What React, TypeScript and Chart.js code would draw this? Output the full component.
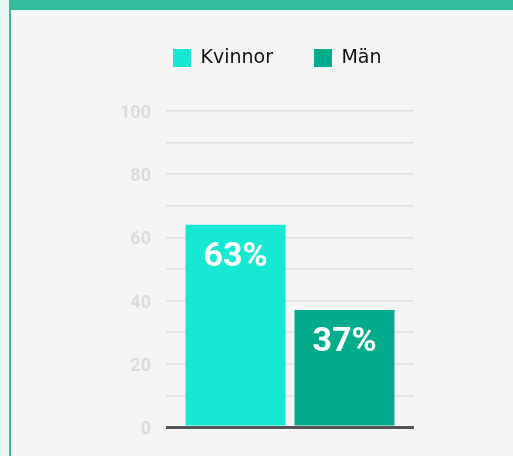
import React, { useEffect, useRef } from "react";
import { Chart, registerables } from "chart.js";

Chart.register(...registerables);

const categories = [""];
const seriesNames = ["Kvinnor", "Män"];
const kvinnorValues = [64];
const manValues = [37];
const valueLabels = ["63%", "37%"];
const yTickLabels = [0, 20, 40, 60, 80, 100];
const seriesColors = ["#17e8d1", "#02ab8c"];

export default function App() {
  const ref = useRef<HTMLCanvasElement>(null);

  useEffect(() => {
    if (!ref.current) return;

    const legendSpacer = {
      id: "legendSpacer",
      beforeInit(chart: any) {
        const legend = chart.legend;
        if (!legend) return;
        const orig = legend.fit;
        legend.fit = function () {
          orig.call(this);
          this.height += 33.5;
        };
      },
    };

    const barLabels = {
      id: "barLabels",
      afterDatasetsDraw(chart: any) {
        const ctx = chart.ctx;
        ctx.save();
        ctx.font = "bold 34px Roboto";
        ctx.fillStyle = "#ffffff";
        ctx.textAlign = "center";
        ctx.textBaseline = "middle";
        chart.data.datasets.forEach((_ds: any, i: number) => {
          const meta = chart.getDatasetMeta(i);
          meta.data.forEach((el: any) => {
            ctx.fillText(valueLabels[i], el.x, el.y + 32.5);
          });
        });
        ctx.restore();
      },
    };

    const chart = new Chart(ref.current, {
      type: "bar",
      data: {
        labels: categories,
        datasets: [
          {
            label: seriesNames[0],
            data: kvinnorValues,
            backgroundColor: seriesColors[0],
            borderWidth: 0,
            categoryPercentage: 0.879,
            barPercentage: 0.917,
          },
          {
            label: seriesNames[1],
            data: manValues,
            backgroundColor: seriesColors[1],
            borderWidth: 0,
            categoryPercentage: 0.879,
            barPercentage: 0.917,
          },
        ],
      },
      options: {
        animation: false,
        responsive: false,
        devicePixelRatio: 1,
        layout: { padding: { left: 100, right: 58.5, top: 7.5, bottom: 29 } },
        plugins: {
          tooltip: { enabled: false },
          legend: {
            position: "top",
            align: "center",
            labels: {
              boxWidth: 18,
              boxHeight: 18,
              padding: 41,
              color: "#111111",
              font: { family: "'DejaVu Sans'", size: 19 },
            },
          },
        },
        scales: {
          x: { display: false },
          y: {
            min: 0,
            max: 100,
            afterFit: (s: any) => {
              s.width = 66;
            },
            border: { display: false },
            grid: {
              drawTicks: false,
              color: (c: any) => (c.tick && c.tick.value === 0 ? "#555555" : "#e0e0e0"),
              lineWidth: (c: any) => (c.tick && c.tick.value === 0 ? 3 : 1.5),
            },
            ticks: {
              stepSize: 10,
              padding: 15,
              labelOffset: 2.5,
              color: "#dcdcdc",
              font: { family: "Roboto", weight: "bold", size: 18 },
              callback: (v: any) => (yTickLabels.includes(Number(v)) ? String(v) : ""),
            },
          },
          yRight: {
            type: "linear",
            position: "right",
            display: true,
            afterFit: (s: any) => {
              s.width = 40.5;
            },
            border: { display: false },
            grid: { display: false, drawTicks: false },
            ticks: { display: false },
          },
        },
      },
      plugins: [legendSpacer, barLabels],
    });

    return () => chart.destroy();
  }, []);

  return (
    <div
      style={{
        position: "fixed",
        left: 0,
        top: 0,
        width: 513,
        height: 456,
        background: "#f5f5f5",
        overflow: "hidden",
      }}
    >
      <div style={{ position: "absolute", left: 0, top: 0, width: 9, height: 456, background: "#e7f7f2" }} />
      <div style={{ position: "absolute", left: 9, top: 0, width: 2, height: 456, background: "#33bd9c" }} />
      <div style={{ position: "absolute", left: 9, top: 0, width: 504, height: 10, background: "#33bd9c" }} />
      <canvas
        ref={ref}
        width={513}
        height={456}
        style={{ position: "absolute", left: 0, top: 0, width: 513, height: 456 }}
      />
    </div>
  );
}
